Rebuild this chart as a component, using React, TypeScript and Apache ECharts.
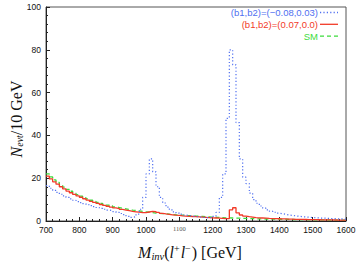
import React, { useEffect, useRef } from "react";
import * as echarts from "echarts";

const binStart = 700;
const binWidth = 10;

const blueVals = [
  16.5, 15.3, 14.3, 13.4, 12.5, 11.7, 11.0, 10.3, 9.7, 9.1,
  8.6, 8.1, 7.6, 7.2, 6.7, 6.3, 5.9, 5.5, 5.1, 4.8,
  4.4, 4.0, 3.5, 3.0, 2.2, 1.7, 2.0, 3.2, 5.5, 11.0,
  22.0, 29.0, 23.0, 16.0, 11.0, 8.4, 6.5, 5.2, 4.3, 3.7,
  3.2, 2.8, 2.5, 2.3, 2.1, 1.9, 1.7, 1.6, 1.5, 1.7,
  2.2, 4.0, 11.0, 22.0, 48.0, 80.0, 73.0, 46.0, 29.0, 20.5,
  17.5, 13.0, 10.0, 8.3, 7.0, 6.0, 5.2, 4.6, 4.1, 3.7,
  3.4, 3.1, 2.8, 2.6, 2.4, 2.2, 2.0, 1.9, 1.8, 1.6,
  1.5, 1.4, 1.35, 1.3, 1.2, 1.15, 1.1, 1.0, 0.95, 0.9,
];

const redVals = [
  21.0, 19.7, 18.3, 17.2, 16.0, 15.0, 14.0, 13.2, 12.4, 11.7,
  11.1, 10.4, 9.8, 9.2, 8.7, 8.2, 7.7, 7.3, 6.9, 6.5,
  6.1, 5.8, 5.4, 5.1, 4.8, 4.5, 4.3, 4.1, 3.9, 3.9,
  4.2, 4.5, 4.4, 4.0, 3.6, 3.3, 3.1, 2.9, 2.7, 2.6,
  2.4, 2.3, 2.2, 2.1, 2.0, 1.9, 1.8, 1.7, 1.6, 1.5,
  1.4, 1.3, 1.2, 1.1, 1.1, 5.2, 6.2, 3.8, 2.8, 2.3,
  2.0, 1.8, 1.6, 1.5, 1.4, 1.3, 1.2, 1.15, 1.1, 1.05,
  1.0, 0.95, 0.9, 0.85, 0.8, 0.75, 0.72, 0.7, 0.67, 0.64,
  0.6, 0.58, 0.55, 0.52, 0.5, 0.48, 0.46, 0.44, 0.42, 0.4,
];

const smVals = [
  22.0, 20.6, 19.2, 18.0, 16.9, 15.8, 14.8, 13.9, 13.0, 12.3,
  11.6, 10.9, 10.3, 9.7, 9.2, 8.7, 8.2, 7.8, 7.4, 7.0,
  6.6, 6.3, 6.0, 5.7, 5.4, 5.1, 4.9, 4.7, 4.5, 4.3,
  4.1, 3.9, 3.7, 3.6, 3.4, 3.3, 3.2, 3.0, 2.9, 2.8,
  2.7, 2.6, 2.5, 2.4, 2.3, 2.2, 2.1, 2.0, 1.9, 1.8,
  1.7, 1.65, 1.6, 1.5, 1.45, 1.4, 1.35, 1.3, 1.25, 1.2,
  1.15, 1.1, 1.05, 1.0, 0.97, 0.94, 0.9, 0.87, 0.84, 0.8,
  0.77, 0.74, 0.72, 0.7, 0.67, 0.65, 0.62, 0.6, 0.58, 0.56,
  0.54, 0.52, 0.5, 0.48, 0.46, 0.44, 0.42, 0.4, 0.38, 0.36,
];

const seriesNames = ["(b1,b2)=(\u22120.08,0.03)", "(b1,b2)=(0.07,0.0)", "SM"];
const seriesColors = ["#4f6ff0", "#f23a28", "#3ddc3d"];
const seriesDash: (number[] | "solid")[] = [[1.2, 2.2], "solid", [4, 3]];
const xTicks = [700, 800, 900, 1000, 1100, 1200, 1300, 1400, 1500, 1600];
const yTicks = [0, 20, 40, 60, 80, 100];

function toSteps(vals: number[]): number[][] {
  const pts = vals.map((v, i) => [binStart + i * binWidth, v]);
  pts.push([binStart + vals.length * binWidth, vals[vals.length - 1]]);
  return pts;
}

export default function App() {
  const ref = useRef<HTMLDivElement>(null);
  useEffect(() => {
    if (!ref.current) return;
    const chart = echarts.init(ref.current, null, { renderer: "svg" });
    const sans = "'Liberation Sans', Arial, sans-serif";
    const serif = "'Liberation Serif', 'DejaVu Serif', serif";

    const legendGraphics: any[] = [];
    seriesNames.forEach((n, i) => {
      const y = 12.5 + i * 11.8;
      legendGraphics.push({
        type: "text",
        x: 318,
        y,
        style: {
          text: n,
          align: "right",
          verticalAlign: "middle",
          fill: seriesColors[i],
          font: `9.5px ${sans}`,
        },
      });
      legendGraphics.push({
        type: "line",
        shape: { x1: 320, y1: y, x2: 338, y2: y },
        style: {
          stroke: seriesColors[i],
          lineWidth: 1.3,
          lineDash: seriesDash[i] === "solid" ? null : seriesDash[i],
        },
      });
    });

    chart.setOption({
      animation: false,
      backgroundColor: "#ffffff",
      grid: {
        left: 46,
        right: 14,
        top: 7,
        bottom: 49,
        show: true,
        borderColor: "#555",
        borderWidth: 1,
      },
      xAxis: {
        type: "value",
        min: xTicks[0],
        max: xTicks[xTicks.length - 1],
        interval: 100,
        axisLine: { lineStyle: { color: "#222", width: 1 } },
        axisTick: { inside: true, length: 4, lineStyle: { color: "#222" } },
        minorTick: { show: true, splitNumber: 5, length: 2, lineStyle: { color: "#222" } },
        splitLine: { show: false },
        axisLabel: {
          fontFamily: sans,
          fontSize: 8.5,
          color: "#111",
          margin: 4,
          formatter: (v: number) => (v === 1100 ? "{s|1100}" : String(v)),
          rich: {
            s: { fontFamily: serif, fontSize: 6.5, color: "#555" },
          },
        },
      },
      yAxis: {
        type: "value",
        min: yTicks[0],
        max: yTicks[yTicks.length - 1],
        interval: 20,
        axisLine: { show: true, lineStyle: { color: "#222", width: 1 } },
        axisTick: { show: true, inside: true, length: 4, lineStyle: { color: "#222" } },
        minorTick: { show: true, splitNumber: 5, length: 2, lineStyle: { color: "#222" } },
        splitLine: { show: false },
        axisLabel: { fontFamily: sans, fontSize: 8.5, color: "#111", margin: 5 },
      },
      graphic: [
        ...legendGraphics,
        {
          type: "text",
          x: 16,
          y: 119,
          rotation: Math.PI / 2,
          style: {
            text: "{n|N}{s|evt}{r|/10 GeV}",
            align: "center",
            verticalAlign: "middle",
            fill: "#111",
            rich: {
              n: { fontFamily: serif, fontStyle: "italic", fontSize: 16, fill: "#111" },
              s: { fontFamily: serif, fontStyle: "italic", fontSize: 10, fill: "#111", verticalAlign: "bottom", padding: [6, 0, 0, 0] },
              r: { fontFamily: serif, fontSize: 16, fill: "#111" },
            },
          },
        },
        {
          type: "text",
          x: 190,
          y: 252,
          style: {
            text: "{n|M}{s|inv}{r|(}{i|l}{p|+}{i|l}{p|\u2212}{r|) [GeV]}",
            align: "center",
            verticalAlign: "middle",
            fill: "#111",
            rich: {
              n: { fontFamily: serif, fontStyle: "italic", fontSize: 16, fill: "#111" },
              s: { fontFamily: serif, fontStyle: "italic", fontSize: 10.5, fill: "#111", padding: [8, 0, 0, 0] },
              r: { fontFamily: serif, fontSize: 16, fill: "#111" },
              i: { fontFamily: serif, fontStyle: "italic", fontSize: 16, fill: "#111" },
              p: { fontFamily: serif, fontSize: 10, fill: "#111", padding: [0, 1, 8, 0] },
            },
          },
        },
      ],
      series: [
        {
          name: seriesNames[2],
          type: "line",
          step: "end",
          symbol: "none",
          data: toSteps(smVals),
          lineStyle: { color: seriesColors[2], width: 1.3, type: seriesDash[2] },
          z: 2,
        },
        {
          name: seriesNames[1],
          type: "line",
          step: "end",
          symbol: "none",
          data: toSteps(redVals),
          lineStyle: { color: seriesColors[1], width: 1.3, type: seriesDash[1] },
          z: 3,
        },
        {
          name: seriesNames[0],
          type: "line",
          step: "end",
          symbol: "none",
          data: toSteps(blueVals),
          lineStyle: { color: seriesColors[0], width: 1.2, type: seriesDash[0] },
          z: 4,
        },
      ],
    });
    return () => chart.dispose();
  }, []);
  return <div ref={ref} style={{ width: 360, height: 270, position: "absolute", left: 0, top: 0 }} />;
}
